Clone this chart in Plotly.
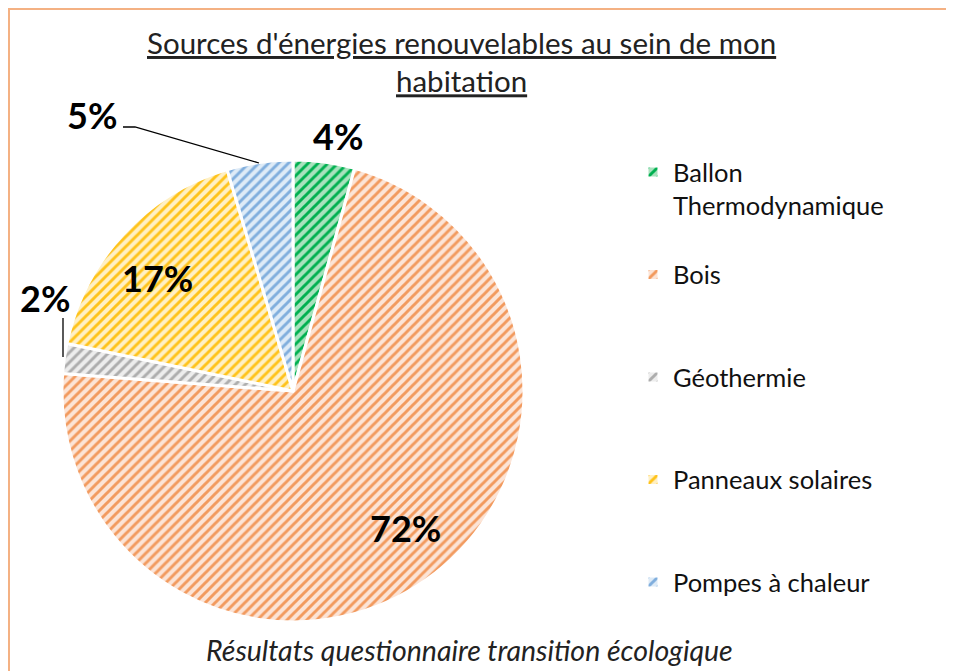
import plotly.graph_objects as go

# ---- data ----
categories = ["Ballon<br>Thermodynamique", "Bois", "Géothermie", "Panneaux solaires", "Pompes à chaleur"]
shares = [4.3, 71.9, 2.1, 17.1, 4.6]
colors = ["#00B050", "#F29A5E", "#ADADAD", "#FFC31A", "#80AEDD"]
bg_colors = ["#A8E2BD", "#FCE4D6", "#EDEDED", "#FFF0C4", "#DEEBF7"]
title_lines = ["Sources d'énergies renouvelables au sein de mon", "habitation"]
footer_text = "Résultats questionnaire transition écologique"

W, H = 954, 671
OFF = 8          # page body margin of the html output
ML, MT = 1, 1


def px(x):
    return (x - OFF - ML) / (W - ML)


def py(y):
    return (H - (y - OFF)) / (H - MT)


# legend labels padded to three lines so items are evenly spaced
def pad(lbl, n=3):
    k = lbl.count("<br>") + 1
    return lbl + "<br> " * (n - k)


legend_labels = [pad(c) for c in categories]
total = sum(shares)
pct = [f"{v / total * 100:.0f}%" for v in shares]

fig = go.Figure()
fig.add_trace(go.Pie(
    labels=legend_labels,
    values=shares,
    sort=False,
    direction="clockwise",
    rotation=0,
    textinfo="none",
    hoverinfo="label+percent",
    marker=dict(
        colors=bg_colors,
        line=dict(color="white", width=3),
        pattern=dict(shape="/", fgcolor=colors, bgcolor=bg_colors, size=7, solidity=0.42, fillmode="replace"),
    ),
    domain=dict(x=[px(62), px(524)], y=[py(622), py(160)]),
))

FONT = "Lato, 'Open Sans', sans-serif"
lab_font = dict(family=FONT, size=36, color="black", weight="bold")

# label positions (pixel centres) per slice
label_pos = [(338, 136), (405, 528), (45, 298), (157, 278), (92, 115)]
annotations = []
for (x, y), t in zip(label_pos, pct):
    annotations.append(dict(x=px(x), y=py(y), xref="paper", yref="paper", text=f"<b>{t}</b>",
                            showarrow=False, font=lab_font, xanchor="center", yanchor="middle"))

annotations.append(dict(x=px(469), y=py(650), xref="paper", yref="paper",
                        text=f"<i>{footer_text}</i>", showarrow=False,
                        font=dict(family=FONT, size=28.5, color="#222222"),
                        xanchor="center", yanchor="middle"))

# title as annotation centred on its two lines
annotations.append(dict(x=px(461), y=py(62), xref="paper", yref="paper",
                        text="<br>".join(f"<u>{t}</u>" for t in title_lines), showarrow=False,
                        font=dict(family=FONT, size=29.5, color="#222222"),
                        xanchor="center", yanchor="middle"))

shapes = [
    # chart frame
    dict(type="rect", xref="paper", yref="paper", x0=0, x1=1.05, y0=-0.05, y1=1,
         line=dict(color="#F4B183", width=2), fillcolor="rgba(0,0,0,0)", layer="below"),
    # leader lines
    dict(type="path", xref="paper", yref="paper",
         path=f"M{px(123)},{py(127)} L{px(135)},{py(127)} L{px(259)},{py(163)}",
         line=dict(color="black", width=1.3)),
    dict(type="line", xref="paper", yref="paper", x0=px(63), x1=px(63), y0=py(318), y1=py(357),
         line=dict(color="black", width=1.3)),
]

fig.update_layout(
    width=W, height=H,
    margin=dict(l=ML, r=0, t=MT, b=0),
    paper_bgcolor="white", plot_bgcolor="white",
    showlegend=True,
    legend=dict(x=px(633), xanchor="left", y=py(149), yanchor="top", valign="top",
                font=dict(family=FONT, size=25.5, color="#111111"), bgcolor="rgba(0,0,0,0)"),
    annotations=annotations,
    shapes=shapes,
)

fig.write_html("out.html")
